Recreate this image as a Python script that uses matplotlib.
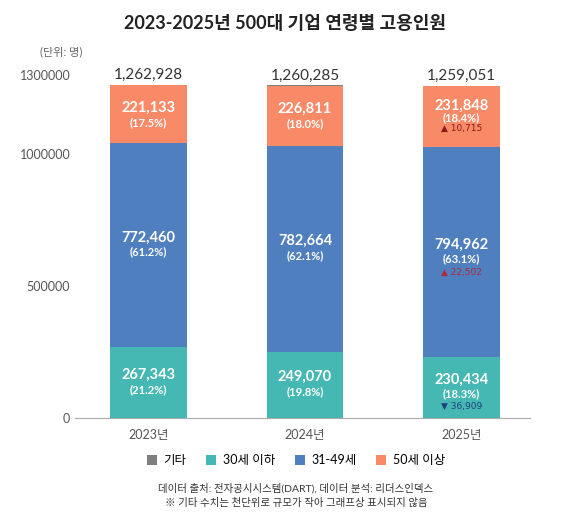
import matplotlib
matplotlib.use('Agg')
import matplotlib.pyplot as plt
import numpy as np

plt.rcParams['font.family'] = ['Lato', 'Noto Sans CJK KR', 'DejaVu Sans']

years = ['2023년', '2024년', '2025년']
under30 = [267343, 249070, 230434]
mid = [772460, 782664, 794962]
over50 = [221133, 226811, 231848]
totals = [1262928, 1260285, 1259051]
etc = [t - a - b - c for t, a, b, c in zip(totals, under30, mid, over50)]
pct_under30 = ['21.2%', '19.8%', '18.3%']
pct_mid = ['61.2%', '62.1%', '63.1%']
pct_over50 = ['17.5%', '18.0%', '18.4%']

c_etc = '#7f7f7f'
c_u30 = '#45b8b3'
c_mid = '#4f7fbe'
c_o50 = '#f98a67'

fig = plt.figure(figsize=(5.69, 5.16), dpi=100)
ax = fig.add_axes([0.132, 0.19, 0.80, 0.665])
x = np.arange(len(years))
w = 0.49

ax.bar(x, under30, w, color=c_u30, label='30세 이하')
ax.bar(x, mid, w, bottom=under30, color=c_mid, label='31-49세')
b2 = np.array(under30) + np.array(mid)
ax.bar(x, over50, w, bottom=b2, color=c_o50, label='50세 이상')
b3 = b2 + np.array(over50)
ax.bar(x, etc, w, bottom=b3, color=c_etc, label='기타')

for i in range(len(years)):
    ax.text(x[i], under30[i] / 2 + 30000, f'{under30[i]:,}', ha='center', va='center',
            color='white', fontsize=10.5, fontweight='bold')
    ax.text(x[i], under30[i] / 2 - 25000, f'({pct_under30[i]})', ha='center', va='center',
            color='white', fontsize=8, fontweight='bold')
    ym = under30[i] + mid[i] / 2
    ax.text(x[i], ym + 30000, f'{mid[i]:,}', ha='center', va='center',
            color='white', fontsize=10.5, fontweight='bold')
    ax.text(x[i], ym - 25000, f'({pct_mid[i]})', ha='center', va='center',
            color='white', fontsize=8, fontweight='bold')
    yo = b2[i] + over50[i] / 2
    ax.text(x[i], yo + 40000 if i == 2 else yo + 25000, f'{over50[i]:,}', ha='center',
            va='center', color='white', fontsize=10.5, fontweight='bold')
    ax.text(x[i], yo - 5000 if i == 2 else yo - 30000, f'({pct_over50[i]})', ha='center',
            va='center', color='white', fontsize=8, fontweight='bold')
    ax.text(x[i], totals[i] + 35000, f'{totals[i]:,}', ha='center', va='center',
            color='#333333', fontsize=11)

# changes vs 2024
ax.text(x[2], b2[2] + over50[2] / 2 - 45000, '▲ 10,715', ha='center', va='center',
        color='#8b1a1a', fontsize=6.5, family=['DejaVu Sans'])
ax.text(x[2], under30[2] + mid[2] / 2 - 75000, '▲ 22,502', ha='center', va='center',
        color='#b22a3a', fontsize=6.5, family=['DejaVu Sans'])
ax.text(x[2], under30[2] / 2 - 70000, '▼ 36,909', ha='center', va='center',
        color='#1f3f7f', fontsize=6.5, family=['DejaVu Sans'])

ax.set_xlim(-0.47, 2.44)
ax.set_ylim(0, 1300000)
ax.set_yticks([0, 500000, 1000000, 1300000])
ax.set_yticklabels(['0', '500000', '1000000', '1300000'])
ax.set_xticks(x)
ax.set_xticklabels(years)
ax.tick_params(axis='both', length=0, colors='#555555', labelsize=9)
ax.tick_params(axis='x', pad=8)
for s in ['top', 'right', 'left']:
    ax.spines[s].set_visible(False)
ax.spines['bottom'].set_color('#aaaaaa')

fig.text(0.5, 0.955, '2023-2025년 500대 기업 연령별 고용인원', ha='center', va='center',
         fontsize=13, fontweight='bold', color='#222222')
fig.text(0.07, 0.9, '(단위: 명)', ha='left', va='center', fontsize=8, color='#666666')

h, l = ax.get_legend_handles_labels()
order = [3, 0, 1, 2]
fig.legend([h[k] for k in order], [l[k] for k in order], loc='center',
           bbox_to_anchor=(0.52, 0.108), ncol=4, frameon=False, fontsize=9,
           handlelength=0.8, handleheight=0.8, columnspacing=1.6, handletextpad=0.5)

fig.text(0.52, 0.054, '데이터 출처: 전자공시시스템(DART), 데이터 분석: 리더스인덱스', ha='center',
         va='center', fontsize=7.5, color='#333333')
fig.text(0.52, 0.025, '※ 기타 수치는 천단위로 규모가 작아 그래프상 표시되지 않음', ha='center',
         va='center', fontsize=7.5, color='#333333')

fig.savefig('out.png', dpi=100)
